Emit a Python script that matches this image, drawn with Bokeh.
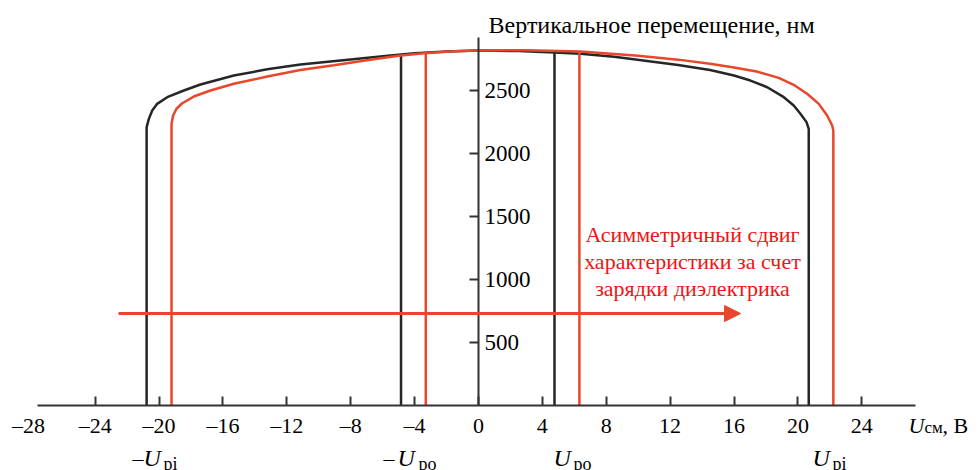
from bokeh.plotting import figure
from bokeh.models import (Range1d, LinearAxis, FixedTicker, Label, Arrow, NormalHead)
from bokeh.embed import file_html
from bokeh.resources import INLINE

# ---------------- data ----------------
x_ticks = [-24, -20, -16, -12, -8, -4, 0, 4, 8, 12, 16, 20, 24]
y_ticks = [500, 1000, 1500, 2000, 2500]

black_x = [-20.78, -20.78, -20.64, -20.43, -20.12, -19.49, -18.45, -17.41, -15.32, -13.23,
           -11.15, -8.01, -6.0, -4.0, -2.0, 0.0, 2.5, 4.76, 6.39, 8.5, 10.56, 12.5, 14.5,
           16.0, 17.03, 18.08, 19.12, 19.74, 20.16, 20.54, 20.68, 20.68]
black_y = [0, 2209, 2275, 2341, 2394, 2447, 2500, 2548, 2619, 2668,
           2706, 2746, 2772, 2795, 2810, 2817, 2813, 2802, 2792, 2768, 2735, 2703, 2662,
           2619, 2579, 2526, 2447, 2381, 2315, 2249, 2196, 0]

red_x = [-19.22, -19.22, -19.12, -18.91, -18.55, -17.83, -16.78, -15.32, -13.23, -11.15,
         -9.06, -7.0, -5.0, -3.44, -1.5, 0.0, 3.0, 6.39, 10.0, 12.5, 14.5, 16.0, 17.5,
         18.8, 19.8, 20.58, 21.31, 21.83, 22.15, 22.22, 22.22]
red_y = [0, 2236, 2302, 2355, 2399, 2452, 2500, 2553, 2611, 2662,
         2700, 2740, 2775, 2796, 2812, 2818, 2820, 2810, 2775, 2745, 2712, 2683, 2648,
         2600, 2540, 2474, 2394, 2302, 2222, 2180, 0]

black_inner_x = [-4.85, 4.76]
black_inner_top = [2786, 2802]
red_inner_x = [-3.30, 6.32]
red_inner_top = [2797, 2810]

arrow_y = 730
arrow_x_start = -22.54
arrow_x_end = 16.41

x_axis_extent = (-27.61, 27.36)
y_axis_extent = (0, 2920)

title_text = "Вертикальное перемещение, нм"
note_lines = ["Асимметричный сдвиг", "характеристики за счет", "зарядки диэлектрика"]

# ---------------- styles ----------------
FONT = "Liberation Serif"
BLACK = "#262626"
AXIS = "#333333"
RED = "#e8472b"
TEXT_RED = "#f01414"
DY = 63.5  # label baseline correction (data units)

p = figure(width=978, height=470,
           x_range=Range1d(-29.93, 31.31), y_range=Range1d(-515.9, 3214.3),
           output_backend="svg", toolbar_location=None,
           x_axis_location=None, y_axis_location=None,
           min_border_left=0, min_border_right=0,
           min_border_top=0, min_border_bottom=0)
p.grid.visible = False
p.outline_line_color = None
p.background_fill_color = "white"
p.border_fill_color = "white"

# x axis at y = 0
xa = LinearAxis(ticker=FixedTicker(ticks=x_ticks), fixed_location=0, bounds=x_axis_extent)
xa.major_label_overrides = {t: ("–" + str(abs(t)) if t < 0 else str(t)) for t in x_ticks}
xa.major_tick_in = 9
xa.major_tick_out = 0
xa.minor_tick_in = 0
xa.minor_tick_out = 0
xa.axis_line_color = AXIS
xa.axis_line_width = 2
xa.major_tick_line_color = AXIS
xa.major_tick_line_width = 2
xa.major_label_text_font = FONT
xa.major_label_text_font_size = "22px"
xa.major_label_text_color = "black"
xa.major_label_standoff = 8
p.add_layout(xa, "below")

# y axis at x = 0, labels to the right
ya = LinearAxis(ticker=FixedTicker(ticks=y_ticks), fixed_location=0, bounds=y_axis_extent)
ya.major_tick_in = 9
ya.major_tick_out = 0
ya.minor_tick_in = 0
ya.minor_tick_out = 0
ya.axis_line_color = AXIS
ya.axis_line_width = 2
ya.major_tick_line_color = AXIS
ya.major_tick_line_width = 2
ya.major_label_text_font = FONT
ya.major_label_text_font_size = "23px"
ya.major_label_text_color = "black"
ya.major_label_standoff = 6
p.add_layout(ya, "right")

# curves
p.line(black_x, black_y, line_color=BLACK, line_width=2.5)
p.segment(x0=black_inner_x, y0=[0] * len(black_inner_x), x1=black_inner_x, y1=black_inner_top,
          line_color=BLACK, line_width=2.5)
p.line(red_x, red_y, line_color=RED, line_width=2.5)
p.segment(x0=red_inner_x, y0=[0] * len(red_inner_x), x1=red_inner_x, y1=red_inner_top,
          line_color=RED, line_width=2.5)

# arrow
p.add_layout(Arrow(x_start=arrow_x_start, y_start=arrow_y, x_end=arrow_x_end, y_end=arrow_y,
                   line_color=RED, line_width=3,
                   end=NormalHead(size=16, fill_color=RED, line_color=RED)))

def lbl(x, y, text, size="22px", color="black", align="left", style="normal"):
    p.add_layout(Label(x=x, y=y + DY, text=text, text_font=FONT, text_font_size=size,
                       text_color=color, text_align=align, text_font_style=style,
                       text_baseline="alphabetic"))

# title
lbl(0.63, 2960, title_text, size="24px")

# annotation
for t, yy in zip(note_lines, [1294, 1079, 865]):
    lbl(13.4, yy, t, size="22px", color=TEXT_RED, align="center")

# -28 label
lbl(-28.18, -222, "–28", size="22px", align="center")

# axis label U_см, В
lbl(26.93, -222, "U", size="22px", style="italic")
lbl(27.93, -240, "см", size="17px")
lbl(29.05, -222, ", В", size="22px")

# bottom markers
for dash_x, u_x, sub_x, sub in [(-21.67, -20.98, -19.72, "pi"), (-5.95, -5.07, -3.76, "po"),
                                (None, 4.70, 5.95, "po"), (None, 20.91, 22.17, "pi")]:
    if dash_x is not None:
        lbl(dash_x, -484, "–", size="22px")
    lbl(u_x, -484, "U", size="24px", style="italic")
    lbl(sub_x, -524, sub, size="18px")

open("out.html", "w").write(file_html(p, INLINE))
